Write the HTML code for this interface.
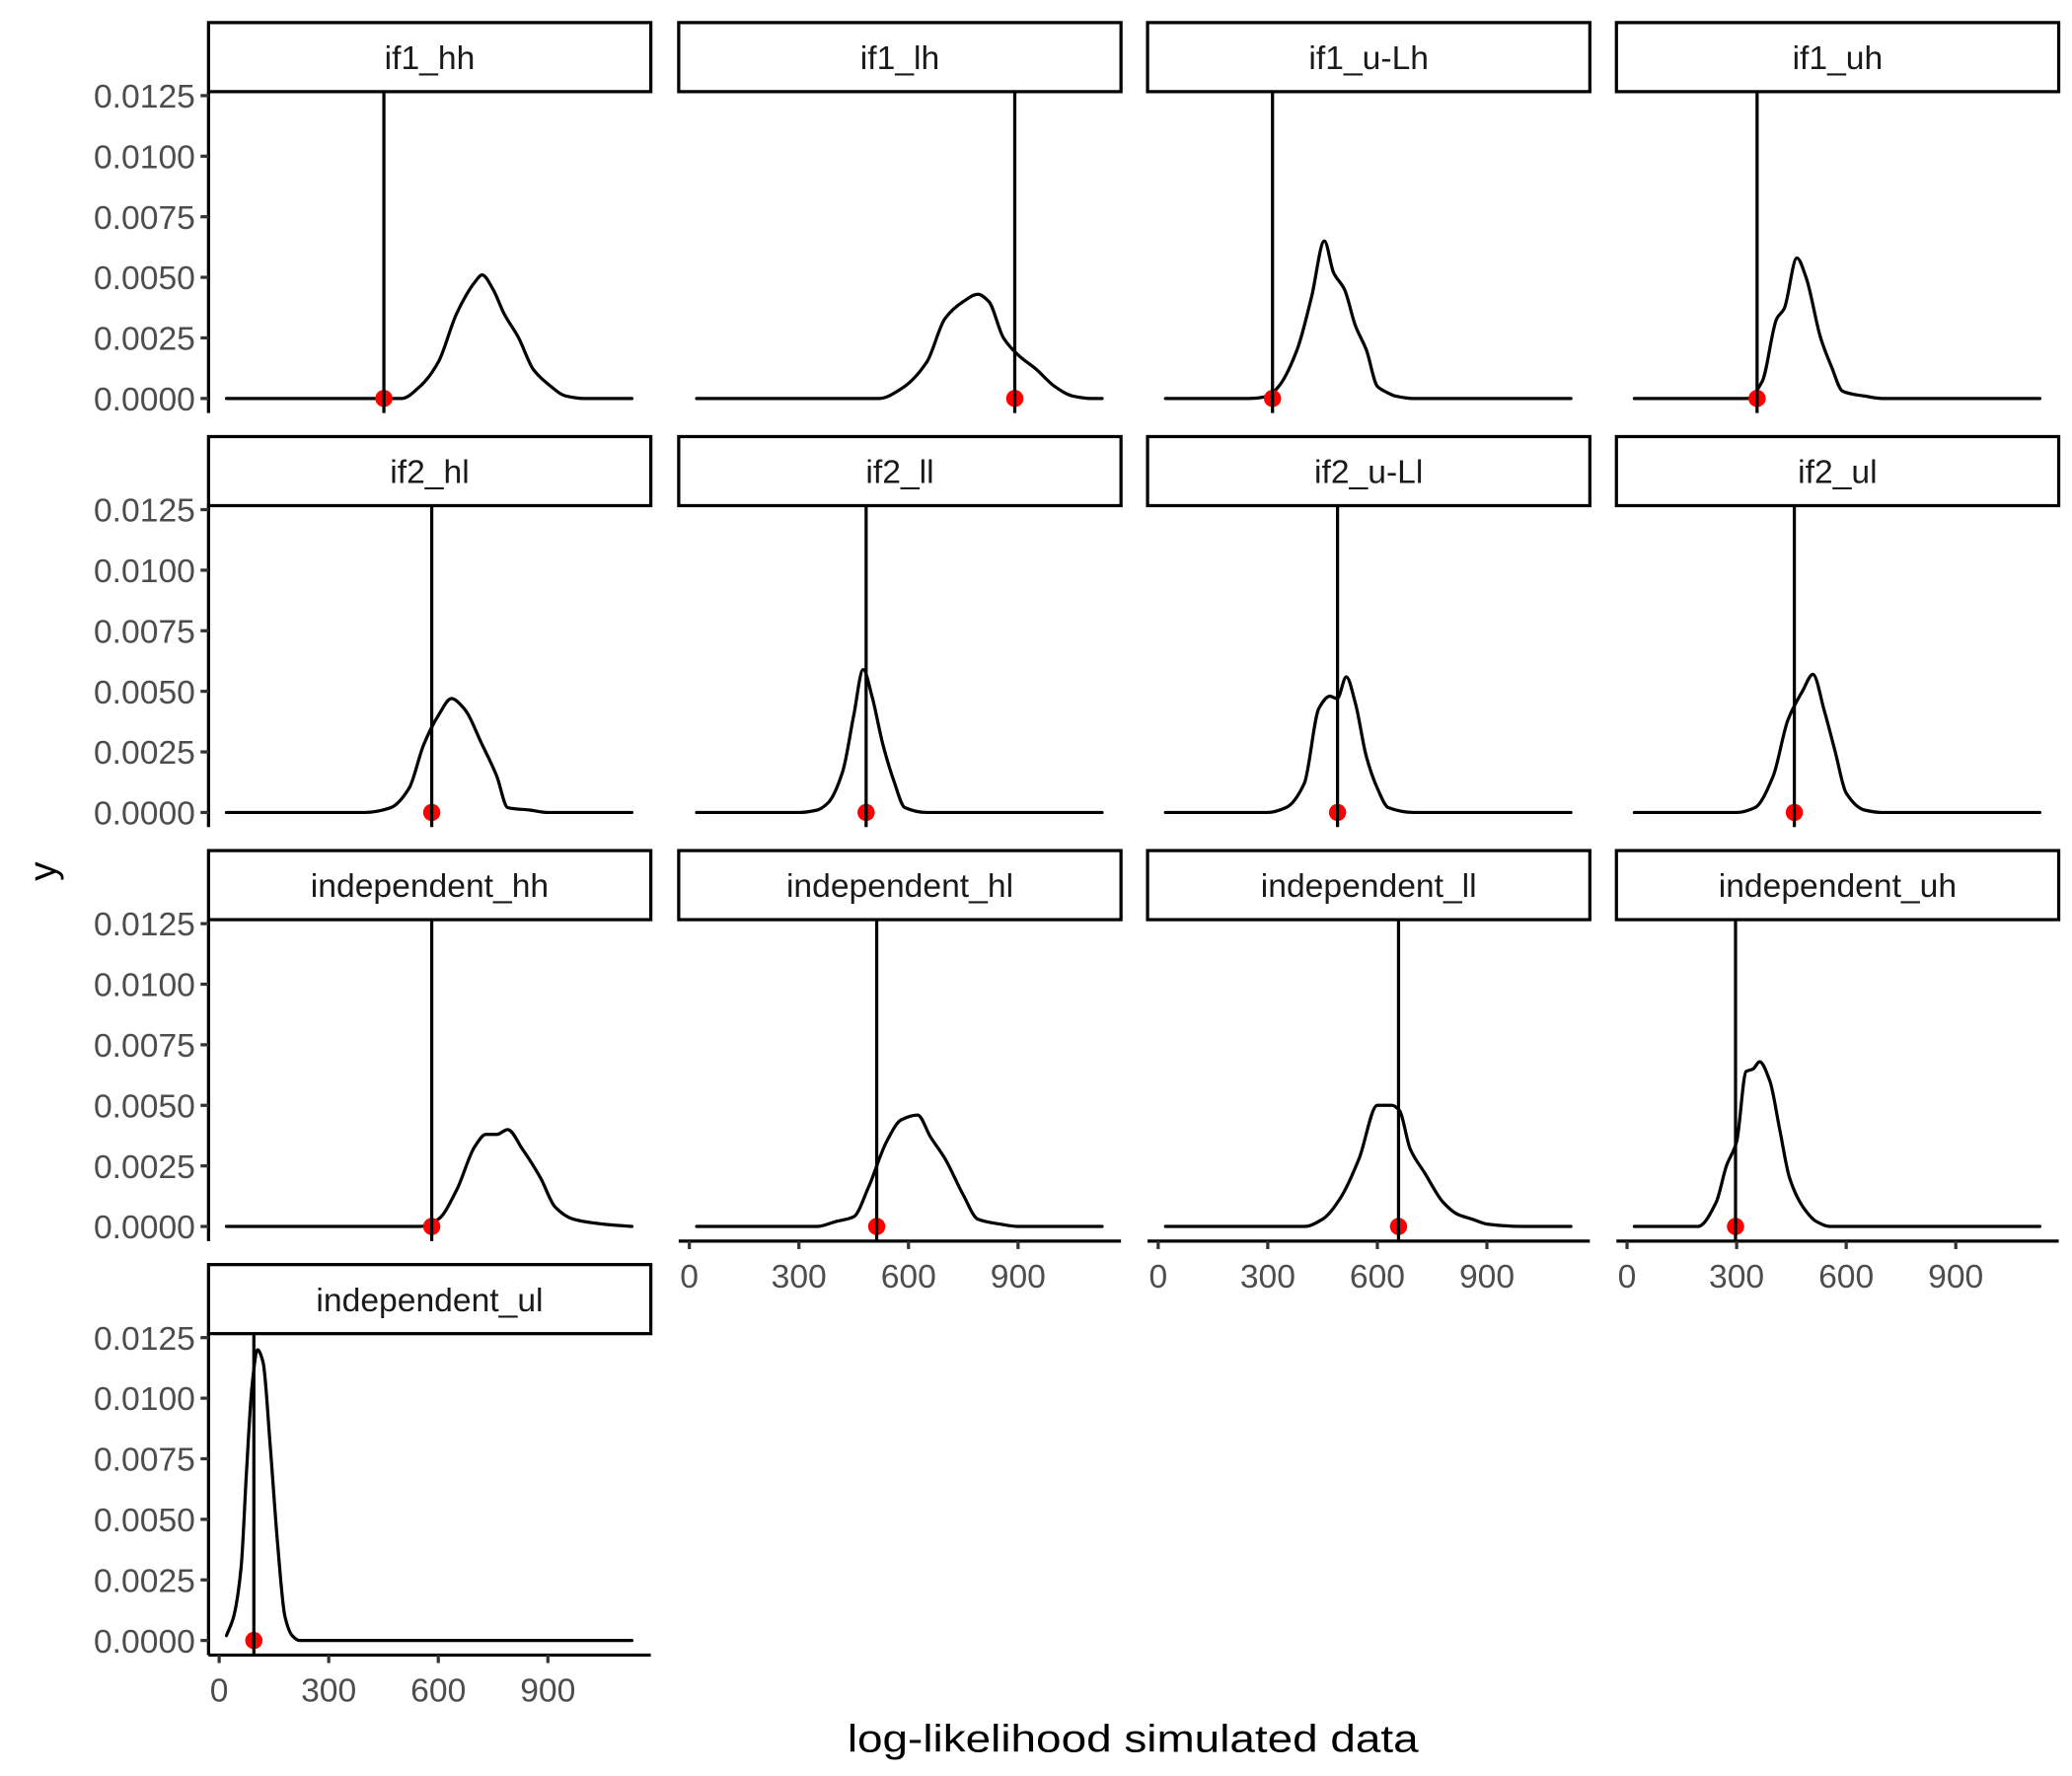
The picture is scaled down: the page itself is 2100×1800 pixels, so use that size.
<!DOCTYPE html>
<html><head><meta charset="utf-8"><title>log-likelihood densities</title>
<style>html,body{margin:0;padding:0;background:#fff}svg{display:block}text{font-family:"Liberation Sans",Arial,sans-serif}</style>
</head><body>
<svg id="chart" xmlns="http://www.w3.org/2000/svg" width="2100" height="1800" viewBox="0 0 1560 1337.14">
<rect width="1560" height="1337.14" fill="#fff"/>
<text x="0" y="0" transform="translate(42,656) rotate(-90)" font-size="29" text-anchor="middle" fill="#000">y</text>
<text x="853" y="1319" font-size="29" text-anchor="middle" textLength="430" lengthAdjust="spacingAndGlyphs" fill="#000">log-likelihood simulated data</text>
</svg>
<script>
const panelNames = ["if1_hh","if1_lh","if1_u-Lh","if1_uh","if2_hl","if2_ll","if2_u-Ll","if2_ul","independent_hh","independent_hl","independent_ll","independent_uh","independent_ul"];
const observed = [451,891,313,356,582,484,491,458,582,513,658,297,95];
const densX0 = [20,500,550,600,650,700,720,750,780,820,860,900,950,1000,1130];
const densY0 = [0,0,0.0005,0.0015,0.0035,0.0048,0.0051,0.0045,0.0035,0.0025,0.0012,0.0006,0.0001,0,0];
const densX1 = [20,520,580,650,700,750,790,820,860,900,950,1000,1050,1100,1130];
const densY1 = [0,0,0.0004,0.0015,0.0033,0.004,0.0043,0.004,0.0025,0.0018,0.0012,0.0005,0.0001,0,0];
const densX2 = [20,250,300,330,380,420,455,480,510,540,570,600,620,650,700,1130];
const densY2 = [0,0,0.0001,0.0005,0.002,0.0042,0.0065,0.0052,0.0045,0.003,0.002,0.0005,0.0003,0.0001,0,0];
const densX3 = [20,330,370,410,430,465,490,530,560,590,650,700,1130];
const densY3 = [0,0,0.0007,0.0033,0.0037,0.0058,0.005,0.0025,0.0013,0.0003,0.0001,0,0];
const densX4 = [20,400,470,520,560,600,636,670,720,760,790,850,900,1130];
const densY4 = [0,0,0.0002,0.001,0.0028,0.004,0.0047,0.0043,0.0028,0.0015,0.0002,0.0001,0,0];
const densX5 = [20,300,350,380,420,450,476,500,530,560,590,650,1130];
const densY5 = [0,0,0.0001,0.0004,0.0017,0.004,0.0059,0.0048,0.0028,0.0013,0.0002,0,0];
const densX6 = [20,300,350,400,440,470,490,515,540,570,600,630,700,1130];
const densY6 = [0,0,0.0002,0.0012,0.0043,0.0048,0.0047,0.0056,0.0045,0.0023,0.001,0.0002,0,0];
const densX7 = [20,300,350,400,440,480,509,540,570,600,650,700,1130];
const densY7 = [0,0,0.0002,0.0015,0.0038,0.005,0.0057,0.0042,0.0025,0.0008,0.0001,0,0];
const densX8 = [20,550,600,650,700,730,760,790,830,880,920,970,1050,1130];
const densY8 = [0,0,0.0003,0.0015,0.0033,0.0038,0.0038,0.004,0.0032,0.002,0.0008,0.0003,0.0001,0];
const densX9 = [20,350,400,450,490,540,580,625,660,700,750,790,850,900,1130];
const densY9 = [0,0,0.0002,0.0004,0.0016,0.0035,0.0044,0.0046,0.0037,0.0028,0.0013,0.0003,0.0001,0,0];
const densX10 = [20,400,450,500,550,600,640,660,690,730,780,820,860,900,1000,1130];
const densY10 = [0,0,0.0003,0.0012,0.0028,0.005,0.005,0.0048,0.0032,0.0022,0.001,0.0005,0.0003,0.0001,0,0];
const densX11 = [20,194,244,272,300,326,345,363,391,418,445,482,519,556,1130];
const densY11 = [0,0,0.001,0.0025,0.0035,0.0064,0.0065,0.0068,0.006,0.004,0.002,0.0008,0.0002,0,0];
const densX12 = [20,40,60,75,90,105,120,140,160,180,200,220,1130];
const densY12 = [0.0002,0.001,0.003,0.007,0.0105,0.012,0.0115,0.008,0.004,0.001,0.0002,0,0];
const densXs = [densX0,densX1,densX2,densX3,densX4,densX5,densX6,densX7,densX8,densX9,densX10,densX11,densX12];
const densYs = [densY0,densY1,densY2,densY3,densY4,densY5,densY6,densY7,densY8,densY9,densY10,densY11,densY12];
const yTicks = [0,0.0025,0.005,0.0075,0.01,0.0125];
const yTickLabels = ["0.0000","0.0025","0.0050","0.0075","0.0100","0.0125"];
const xTicks = [0,300,600,900];
const xTickLabels = ["0","300","600","900"];

const NS = "http://www.w3.org/2000/svg";
const svg = document.getElementById('chart');
const colLeft = [157,511,864,1217];
const PW = 333, ROW0 = 300, ROWP = 311.7;
const SW = 2.4, FS = 25;
function mk(tag, attrs, parent){const e=document.createElementNS(NS,tag);for(const k in attrs)e.setAttribute(k,attrs[k]);(parent||svg).appendChild(e);return e;}
function xs(L,v){return L+8+v*0.275;}
function ys(y0,v){return y0-v*228/0.0125;}
function monoPath(P){
  const n=P.length, dx=[], m=[], t=new Array(n);
  for(let k=0;k<n-1;k++){dx.push(P[k+1][0]-P[k][0]);m.push((P[k+1][1]-P[k][1])/dx[k]);}
  t[0]=m[0]; t[n-1]=m[n-2];
  for(let k=1;k<n-1;k++){
    if(m[k-1]*m[k]<=0) t[k]=0;
    else { const w1=2*dx[k]+dx[k-1], w2=dx[k]+2*dx[k-1]; t[k]=(w1+w2)/(w1/m[k-1]+w2/m[k]); }
  }
  let d='M'+P[0][0].toFixed(2)+','+P[0][1].toFixed(2);
  for(let k=0;k<n-1;k++){
    const h=dx[k]/3;
    d+=' C'+(P[k][0]+h).toFixed(2)+','+(P[k][1]+t[k]*h).toFixed(2)+' '+(P[k+1][0]-h).toFixed(2)+','+(P[k+1][1]-t[k+1]*h).toFixed(2)+' '+P[k+1][0].toFixed(2)+','+P[k+1][1].toFixed(2);
  }
  return d;
}

panelNames.forEach((name,i)=>{
  const c=i%4, r=Math.floor(i/4), L=colLeft[c], y0=ROW0+r*ROWP;
  const g=mk('g',{});
  
  
  const strip=mk('rect',{x:L,y:y0-283,width:PW,height:52,fill:'#fff',stroke:'#000','stroke-width':SW},g);
  
  
  const st=mk('text',{x:L+PW/2,y:y0-248,'font-size':FS,'text-anchor':'middle',fill:'#1a1a1a'},g);
  st.textContent=name;
  
  
  if(c===0){
    const ya=mk('line',{x1:L,x2:L,y1:y0-231,y2:y0+11,stroke:'#000','stroke-width':SW},g);
    
    
    yTicks.forEach((t,k)=>{
      const yy=ys(y0,t);
      mk('line',{x1:L-6,x2:L,y1:yy,y2:yy,stroke:'#333','stroke-width':SW},g);
      const tl=mk('text',{x:L-10,y:yy+9,'font-size':FS,'text-anchor':'end',fill:'#4d4d4d'},g);
      tl.textContent=yTickLabels[k];
      
      
    });
  }
  if(r===3 || (r===2 && c>0)){
    const xa=mk('line',{x1:L,x2:L+PW,y1:y0+11,y2:y0+11,stroke:'#000','stroke-width':SW},g);
    
    
    xTicks.forEach((t,k)=>{
      const xx=xs(L,t);
      mk('line',{x1:xx,x2:xx,y1:y0+11,y2:y0+17,stroke:'#333','stroke-width':SW},g);
      const tl=mk('text',{x:xx,y:y0+46,'font-size':FS,'text-anchor':'middle',fill:'#4d4d4d'},g);
      tl.textContent=xTickLabels[k];
      
      
    });
  }
  const X=densXs[i], Y=densYs[i];
  const P=X.map((x,k)=>[xs(L,x),ys(y0,Y[k])]);
  const pl=mk('path',{d:monoPath(P),fill:'none',stroke:'#000','stroke-width':SW,'stroke-linejoin':'round','stroke-linecap':'round'},g);
  
  
  const ox=xs(L,observed[i]);
  const dot=mk('circle',{cx:ox,cy:ys(y0,0),r:6.5,fill:'#ff0000'},g);
  
  
  const vl=mk('line',{x1:ox,x2:ox,y1:y0-231,y2:y0+11,stroke:'#000','stroke-width':SW},g);
  
  
});
</script>
</body></html>
